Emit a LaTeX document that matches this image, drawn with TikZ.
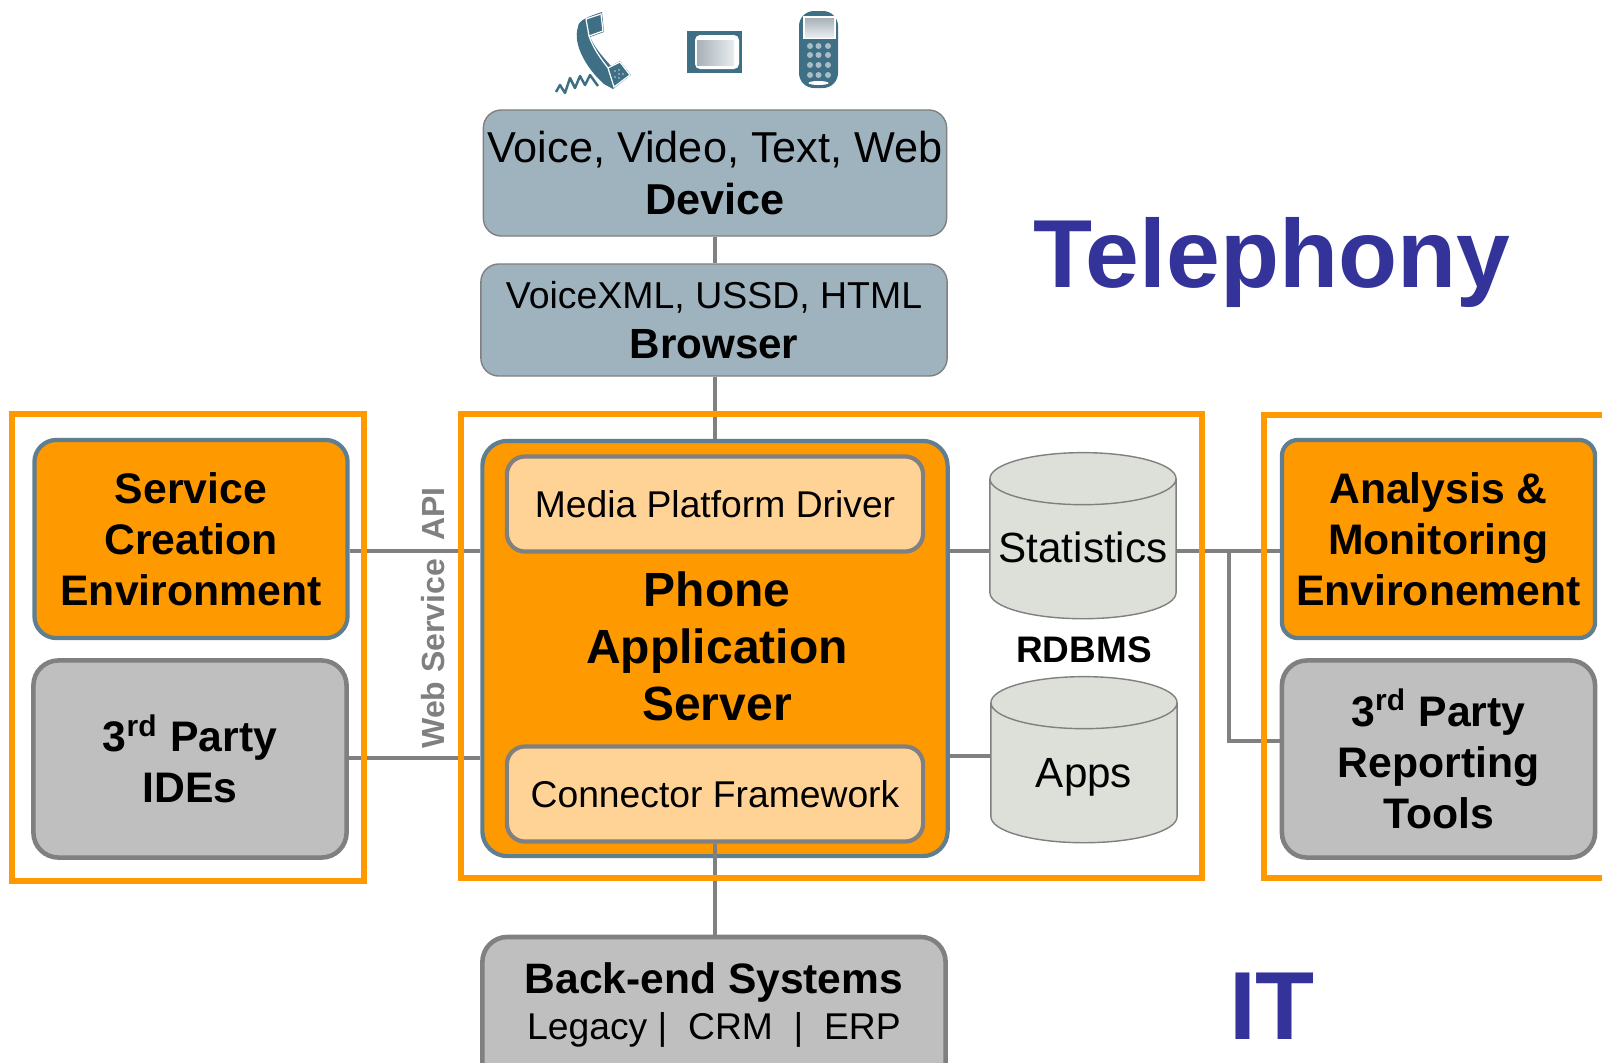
\documentclass[tikz,border=0pt]{standalone}
\usepackage{fontspec}
\setmainfont{Liberation Sans}
\usepackage{tikz}
\usetikzlibrary{shapes.geometric, calc, positioning}
\definecolor{teleblue}{HTML}{333399}
\definecolor{boxorange}{HTML}{FF9900}
\definecolor{boxpeach}{HTML}{FFD296}
\definecolor{boxgrey}{HTML}{BFBFBF}
\definecolor{linegrey}{HTML}{808080}
\definecolor{slate}{HTML}{9FB3BF}
\definecolor{slateline}{HTML}{5F7F90}
\definecolor{dbfill}{HTML}{DDDFD9}
\definecolor{icon}{HTML}{3F6F85}
\definecolor{iconpale}{HTML}{C5D0D8}
\tikzstyle{device} = [rectangle, rounded corners=1.8mm, draw=linegrey, line width=0.4pt, fill=slate, align=center, inner sep=0pt, font=\fontsize{12.3}{15}\selectfont]
\tikzstyle{platform} = [rectangle, rounded corners=1.6mm, draw=slateline, line width=1.2pt, fill=boxorange, align=center, inner sep=0pt, font=\fontsize{12.15}{14.5}\selectfont\bfseries]
\tikzstyle{party} = [rectangle, rounded corners=2.5mm, draw=linegrey, line width=1.3pt, fill=boxgrey, align=center, inner sep=0pt, font=\fontsize{12.15}{14.5}\selectfont\bfseries]
\tikzstyle{inner} = [rectangle, rounded corners=1.8mm, draw=linegrey, line width=1.2pt, fill=boxpeach, minimum width=4.16cm, minimum height=0.95cm, inner sep=0pt, font=\fontsize{10.6}{13}\selectfont]
\tikzstyle{database} = [cylinder, shape border rotate=90, shape aspect=3.7, draw=linegrey, line width=0.4pt, fill=dbfill, minimum width=1.86cm, minimum height=1.66cm, inner sep=2pt]
\tikzstyle{dblabel} = [inner sep=0pt, font=\fontsize{12}{14}\selectfont]
\tikzstyle{frame} = [rectangle, draw=boxorange, line width=1.6pt, inner sep=0pt]
\tikzstyle{link} = [draw=linegrey, line width=1.3pt]
\begin{document}
\begin{tikzpicture}[x=0.01cm, y=-0.01cm]
	\useasboundingbox (0,0) rectangle (1602,1063);
	\node (Telephony) [text=teleblue, font=\fontsize{27.5}{30}\selectfont\bfseries] at (1272,262) {Telephony};
	\node (IT) [text=teleblue, font=\fontsize{27.5}{30}\selectfont\bfseries] at (1272,1006) {IT};
	\node (Device) [device, minimum width=4.63cm, minimum height=1.26cm] at (715,173) {Voice, Video, Text, Web\\\textbf{Device}};
	\node (Browser) [device, minimum width=4.66cm, minimum height=1.12cm, font=\fontsize{10.65}{14.4}\selectfont] at (714,320) {VoiceXML, USSD, HTML\\{\fontsize{12}{14.4}\selectfont\textbf{Browser}}};
	\node (Server) [platform, rounded corners=2.5mm, minimum width=4.65cm, minimum height=4.15cm] at (715,648.5) {};
	\node (ServerName) [align=center, font=\fontsize{13.65}{16.2}\selectfont\bfseries] at (717,646) {Phone\\Application\\Server};
	\node (Media) [inner] at (715,504) {Media Platform Driver};
	\node (Connector) [inner] at (715,794) {Connector Framework};
	\node (Statistics) [database] at (1083,554) {};
	\node (StatisticsName) [dblabel] at (1083,547) {Statistics};
	\node (Apps) [database] at (1084,778) {};
	\node (AppsName) [dblabel] at (1084,777) {Apps};
	\node (Rdbms) [font=\fontsize{10.5}{12}\selectfont\bfseries] at (1084,650) {RDBMS};
	\node (Creation) [platform, rounded corners=2.2mm, minimum width=3.13cm, minimum height=1.98cm] at (191,539) {Service\\Creation\\Environment};
	\node (Ides) [party, minimum width=3.13cm, minimum height=1.97cm] at (190,759) {3\textsuperscript{rd} Party\\IDEs};
	\node (Analysis) [platform, minimum width=3.13cm, minimum height=1.98cm] at (1438.5,539) {Analysis \&\\Monitoring\\Environement};
	\node (Reporting) [party, minimum width=3.13cm, minimum height=1.97cm] at (1438.5,759) {3\textsuperscript{rd} Party\\Reporting\\Tools};
	\node (Backend) [party, minimum width=4.63cm, minimum height=1.6cm] at (714,1017) {};
	\node (BackendName) [align=center, font=\fontsize{12.1}{13.2}\selectfont] at (714,1005) {\textbf{Back-end Systems}\\{\fontsize{10.6}{13.2}\selectfont Legacy |\ \ CRM\ \ |\ \ ERP}};
	\node (WebApi) [rotate=90, text=linegrey, font=\fontsize{9.1}{11}\selectfont\bfseries] at (433,618) {Web Service\ \ API};
	\coordinate (LinkTop) at (0,551);
	\coordinate (LinkIde) at (0,758);
	\coordinate (LinkApps) at (0,756);
	\coordinate (LinkTools) at (0,741);
	\coordinate (LinkBranch) at (1229,551);
	\draw [link] (Device.south) -- (Device.south |- Browser.north);
	\draw [link] (Browser.south -| Server.north) -- (Server.north);
	\draw [link] (Connector.south) -- (Connector.south |- Backend.north);
	\draw [link] (Creation.east |- LinkTop) -- (Server.west |- LinkTop);
	\draw [link] (Ides.east |- LinkIde) -- (Server.west |- LinkIde);
	\draw [link] (Server.east |- LinkTop) -- (Statistics.west |- LinkTop);
	\draw [link] (Server.east |- LinkApps) -- (Apps.west |- LinkApps);
	\draw [link] (Statistics.east |- LinkTop) -- (Analysis.west |- LinkTop);
	\draw [link] (LinkBranch) |- (Reporting.west |- LinkTools);
	\node (LeftFrame) [frame, minimum width=3.52cm, minimum height=4.67cm] at (188,647.5) {};
	\node (MiddleFrame) [frame, minimum width=7.41cm, minimum height=4.64cm] at (831.5,646) {};
	\node (RightFrame) [frame, minimum width=4.2cm, minimum height=4.63cm] at (1474,646.5) {};
	% handset
	\fill [icon] (578,27) .. controls (578,20) and (590,16) .. (602,12) -- (604,32) -- (590,37) .. controls (596,50) and (604,58) .. (611,66) -- (620,61) -- (631,75) -- (613,89) -- (604,84) .. controls (588,70) and (572,45) .. (578,27) -- cycle;
	\draw [white, line width=0.35pt] (586,19) -- (601,14) -- (603,31) -- (589,36) -- cycle (589,36) .. controls (594,50) and (602,60) .. (608,68) (608,68) -- (620,62) -- (630,75) -- (614,87) -- cycle;
	\foreach \dotx/\doty in {615/71,619/74,615/77,619/70,623/74,619/78}
		\fill [iconpale] (\dotx,\doty) circle (0.008cm);
	\draw [icon, line width=0.7pt, line join=round] (556,92) -- (560,85) -- (565,93) -- (570,78) -- (575,88) -- (580,76) -- (585,85) -- (590,75) -- (598,86);
	% screen
	\fill [icon] (687,31) rectangle (742,73);
	\fill [white, rounded corners=0.5mm] (695,35) rectangle (739,69);
	\shade [left color=iconpale!85!black, right color=iconpale!40] (697,40) rectangle (734,65);
	% mobile
	\fill [icon, rounded corners=1.5mm] (799,11) rectangle (838,88);
	\fill [white] (803,16) rectangle (836,39);
	\shade [top color=iconpale!85!black, bottom color=iconpale!40] (805,18) rectangle (834,37);
	\foreach \row in {46,55,65,75}
		\foreach \col in {810,818.5,828}
			\fill [iconpale!80!icon] (\col,\row) circle (0.03cm);
	\fill [white] (818.5,83) ellipse (0.1cm and 0.02cm);
\end{tikzpicture}
\end{document}
